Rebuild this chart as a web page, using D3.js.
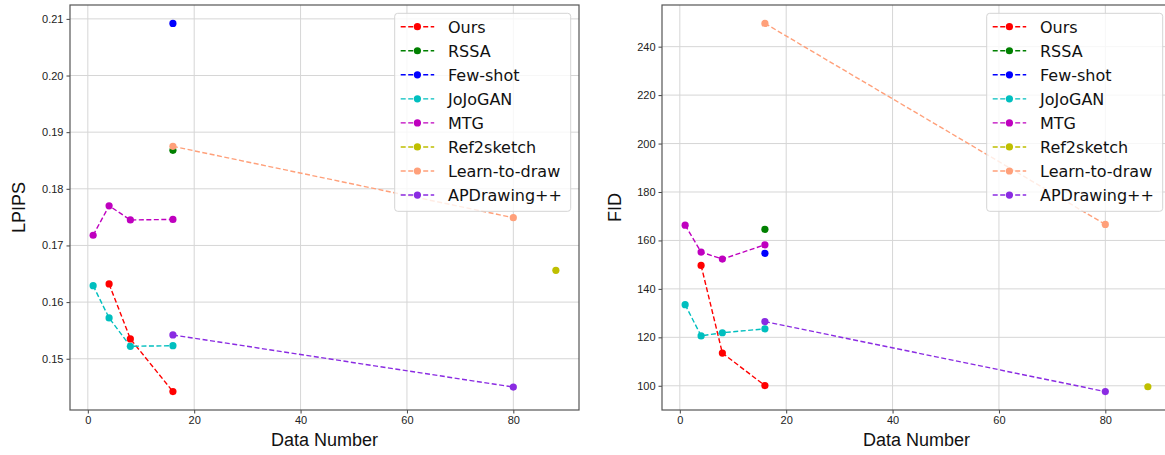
<!DOCTYPE html>
<html>
<head>
<meta charset="utf-8">
<script src="https://cdn.jsdelivr.net/npm/d3@7"></script>
<style>
  body { margin: 0; background: #fff; }
  .tick text { font-family: "Liberation Sans", Arial, sans-serif; font-size: 11px; fill: #222; }
  .axisLabel { font-family: "Liberation Sans", Arial, sans-serif; font-size: 18px; fill: #111; }
  .legendText { font-family: "DejaVu Sans", sans-serif; font-size: 16px; fill: #111; }
</style>
</head>
<body>
<div id="chart"></div>
<script>
var methods = ["Ours", "RSSA", "Few-shot", "JoJoGAN", "MTG", "Ref2sketch", "Learn-to-draw", "APDrawing++"];
var dataNumber = [[4, 8, 16], [16], [16], [1, 4, 8, 16], [1, 4, 8, 16], [88], [16, 80], [16, 80]];
var lpips = [
  [0.1632, 0.1535, 0.1442],
  [0.1868],
  [0.2092],
  [0.1629, 0.1572, 0.1522, 0.1523],
  [0.1718, 0.1770, 0.1745, 0.1746],
  [0.1656],
  [0.1875, 0.1749],
  [0.1542, 0.1450]
];
var fid = [
  [149.7, 113.5, 100.1],
  [164.6],
  [154.7],
  [133.5, 120.6, 121.9, 123.5],
  [166.3, 155.2, 152.3, 158.2],
  [99.6],
  [249.6, 166.6],
  [126.5, 97.6]
];
var xTicks = [0, 20, 40, 60, 80];
var lpipsTicks = [0.15, 0.16, 0.17, 0.18, 0.19, 0.20, 0.21];
var fidTicks = [100, 120, 140, 160, 180, 200, 220, 240];

// matplotlib-like colours
var colors = ["#ff0000", "#008000", "#0000ff", "#00bfbf", "#bf00bf", "#bfbf00", "#ffa07a", "#8a2be2"];

var svgWidth = 1165, svgHeight = 455;
var svg = d3.select("#chart").append("svg")
  .attr("width", svgWidth).attr("height", svgHeight);

// pad domain by 5% like matplotlib autoscale
function padded(values) {
  var ext = d3.extent(values);
  var m = (ext[1] - ext[0]) * 0.05;
  return [ext[0] - m, ext[1] + m];
}

function drawPanel(p) {
  var allX = d3.merge(dataNumber);
  var allY = d3.merge(p.values);
  var x = d3.scaleLinear().domain(padded(allX)).range([p.left, p.right]);
  var y = d3.scaleLinear().domain(padded(allY)).range([p.bottom, p.top]);
  var g = svg.append("g");

  // grid
  g.append("g").selectAll("line").data(xTicks).enter().append("line")
    .attr("x1", d => x(d)).attr("x2", d => x(d))
    .attr("y1", p.top).attr("y2", p.bottom)
    .attr("stroke", "#d6d6d6").attr("stroke-width", 1);
  g.append("g").selectAll("line").data(p.ticks).enter().append("line")
    .attr("x1", p.left).attr("x2", p.right)
    .attr("y1", d => y(d)).attr("y2", d => y(d))
    .attr("stroke", "#d6d6d6").attr("stroke-width", 1);

  // axes
  var bottomAxis = d3.axisBottom(x).tickValues(xTicks).tickSize(3.5).tickPadding(3).tickFormat(d3.format("d"));
  var leftAxis = d3.axisLeft(y).tickValues(p.ticks).tickSize(3.5).tickPadding(3).tickFormat(p.fmt);
  var xa = g.append("g").attr("transform", `translate(0, ${p.bottom})`).call(bottomAxis);
  var ya = g.append("g").attr("transform", `translate(${p.left}, 0)`).call(leftAxis);
  [xa, ya].forEach(function(a) {
    a.select(".domain").remove();
    a.selectAll(".tick line").attr("stroke", "#444");
  });

  // frame
  g.append("rect")
    .attr("x", p.left).attr("y", p.top)
    .attr("width", p.right - p.left).attr("height", p.bottom - p.top)
    .attr("fill", "none").attr("stroke", "#555").attr("stroke-width", 1.2);

  // series
  var line = d3.line().x(d => x(d[0])).y(d => y(d[1]));
  methods.forEach(function(m, i) {
    var pts = dataNumber[i].map((d, j) => [d, p.values[i][j]]);
    g.append("path").datum(pts)
      .attr("d", line)
      .attr("fill", "none")
      .attr("stroke", colors[i])
      .attr("stroke-width", 1.4)
      .attr("stroke-dasharray", "5,2.5");
    g.append("g").selectAll("circle").data(pts).enter().append("circle")
      .attr("cx", d => x(d[0])).attr("cy", d => y(d[1]))
      .attr("r", 3.6).attr("fill", colors[i]);
  });

  // axis labels
  g.append("text").attr("class", "axisLabel")
    .attr("x", (p.left + p.right) / 2).attr("y", 446)
    .attr("text-anchor", "middle").text("Data Number");
  g.append("text").attr("class", "axisLabel")
    .attr("transform", `translate(${p.yLabelX}, ${(p.top + p.bottom) / 2}) rotate(-90)`)
    .attr("text-anchor", "middle").text(p.label);

  // legend (upper right)
  var lw = 176, lh = 198;
  var lx = p.right - 8.3 - lw, ly = p.top + 8.3;
  var legend = g.append("g").attr("transform", `translate(${lx}, ${ly})`);
  legend.append("rect")
    .attr("width", lw).attr("height", lh).attr("rx", 3)
    .attr("fill", "#fff").attr("fill-opacity", 0.8)
    .attr("stroke", "#d4d4d4").attr("stroke-width", 1);
  methods.forEach(function(m, i) {
    var cy = 13.4 + i * 24.05;
    legend.append("line")
      .attr("x1", 6).attr("x2", 39.5).attr("y1", cy).attr("y2", cy)
      .attr("stroke", colors[i]).attr("stroke-width", 1.4)
      .attr("stroke-dasharray", "5,2.5");
    legend.append("circle").attr("cx", 22.7).attr("cy", cy).attr("r", 3.6).attr("fill", colors[i]);
    legend.append("text").attr("class", "legendText")
      .attr("x", 53.3).attr("y", cy + 6).text(m);
  });
}

drawPanel({left: 70, right: 579, top: 5, bottom: 410, values: lpips, ticks: lpipsTicks,
  fmt: d3.format(".2f"), label: "LPIPS", yLabelX: 25});
drawPanel({left: 662, right: 1171, top: 5, bottom: 410, values: fid, ticks: fidTicks,
  fmt: d3.format("d"), label: "FID", yLabelX: 621});
</script>
</body>
</html>
